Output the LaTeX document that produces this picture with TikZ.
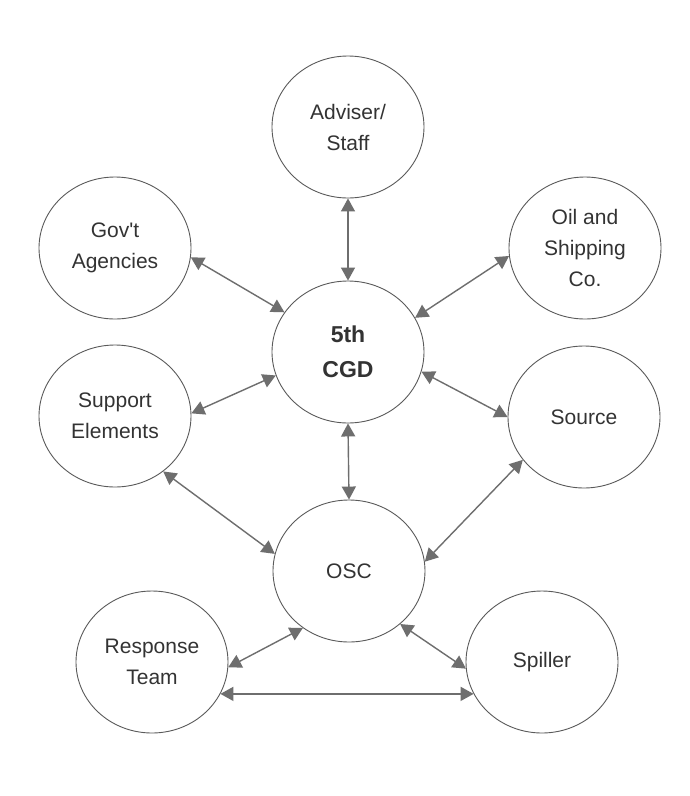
\documentclass[tikz,border=0pt]{standalone}
\usepackage{fontspec}
\setmainfont{Liberation Sans}
\usetikzlibrary{shapes.geometric,arrows.meta}
\definecolor{linegray}{HTML}{6E6E6E}
\definecolor{rimgray}{HTML}{5A5A5A}
\definecolor{textgray}{HTML}{333333}
\begin{document}
\begin{tikzpicture}[x=1pt,y=-1pt,
  party/.style={ellipse, draw=rimgray, line width=0.9pt, fill=white,
    minimum width=152pt, minimum height=142pt, inner sep=0pt,
    align=center, text=textgray, font=\fontsize{21}{31}\selectfont},
  hub/.style={party, font=\bfseries\fontsize{23}{35}\selectfont},
  link/.style={draw=linegray, line width=1.4pt,
    {Triangle[length=13pt,width=14pt]}-{Triangle[length=13pt,width=14pt]}}]
  \useasboundingbox[fill=white] (0,0) rectangle (689,796);

  % parties
  \node[party] (adv)  at (348,127) {Adviser/\\Staff};
  \node[party] (gov)  at (115,248) {Gov\textquotesingle t\\Agencies};
  \node[party] (oil)  at (585,248) {Oil and\\Shipping\\Co.};
  \node[hub]   (cgd)  at (348,352) {5th\\CGD};
  \node[party] (sup)  at (115,416) {Support\\Elements};
  \node[party] (src)  at (584,417) {Source};
  \node[party] (osc)  at (349,571) {OSC};
  \node[party] (resp) at (152,662) {Response\\Team};
  \node[party] (spil) at (542,662) {Spiller};

  % two-way lines of communication
  \draw[link] (adv.-90)  -- (cgd.90);
  \draw[link] (gov.-7)   -- (cgd.148);
  \draw[link] (oil.186)  -- (cgd.27);
  \draw[link] (sup.2)    -- (cgd.198);
  \draw[link] (cgd.-15)  -- (src.180);
  \draw[link] (cgd.-90)  -- (osc.90);
  \draw[link] (sup.-49)  -- (osc.167);
  \draw[link] (src.215)  -- (osc.7);
  \draw[link] (osc.231)  -- (resp.-4);
  \draw[link] (osc.-46)  -- (spil.185);
  \draw[link] (resp.-25) -- (spil.205);
\end{tikzpicture}
\end{document}
